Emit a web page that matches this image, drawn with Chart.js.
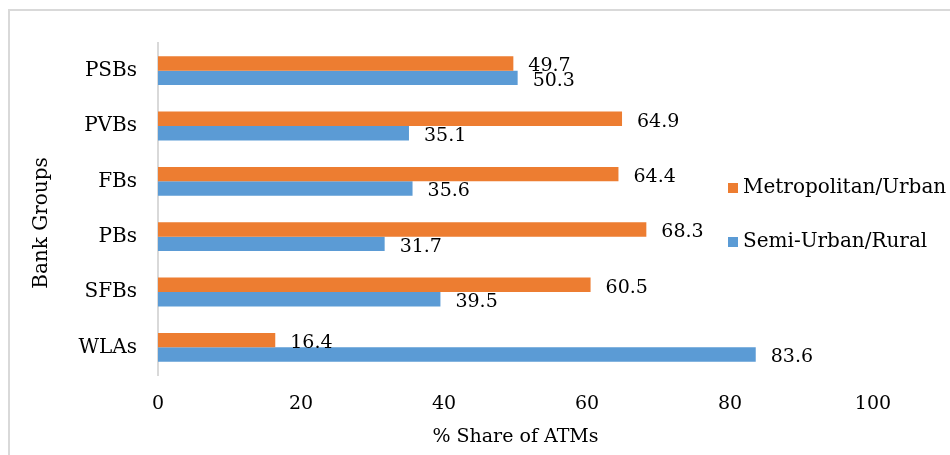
<!DOCTYPE html>
<html>
<head>
<meta charset="utf-8">
<script src="https://cdn.jsdelivr.net/npm/chart.js@4"></script>
<style>
  body { margin: 0; background: #fff; overflow: hidden; }
  #frame { position: absolute; left: 8px; top: 9px; width: 1000px; height: 500px;
           border-left: 2px solid #d9d9d9; border-top: 2px solid #d9d9d9; }
  #wrap { position: absolute; left: 0; top: 0; width: 950px; height: 455px; }
</style>
</head>
<body>
<div id="frame"></div>
<div id="wrap"><canvas id="atmCanvas" width="950" height="455"></canvas></div>
<script>
// ATM share by bank group
const bankGroups = ["PSBs", "PVBs", "FBs", "PBs", "SFBs", "WLAs"];
const metroUrban = [49.7, 64.9, 64.4, 68.3, 60.5, 16.4];
const semiUrbanRural = [50.3, 35.1, 35.6, 31.7, 39.5, 83.6];
const shareTicks = [0, 20, 40, 60, 80, 100];

const FONT = "'DejaVu Serif', serif";
const TEXT = "#000";

// value labels to the right of each bar
const barLabels = {
    id: "barLabels",
    afterDatasetsDraw(chart) {
        const ctx = chart.ctx;
        ctx.save();
        ctx.font = `19px ${FONT}`;
        ctx.fillStyle = TEXT;
        ctx.textAlign = "left";
        ctx.textBaseline = "middle";
        chart.data.datasets.forEach((ds, i) => {
            chart.getDatasetMeta(i).data.forEach((bar, j) => {
                ctx.fillText(ds.data[j].toFixed(1), bar.x + 15, bar.y + 3);
            });
        });
        ctx.restore();
    },
};

// legend drawn inside the plot, to the right
const sideLegend = {
    id: "sideLegend",
    afterDraw(chart) {
        const ctx = chart.ctx;
        ctx.save();
        ctx.font = `20px ${FONT}`;
        ctx.textBaseline = "alphabetic";
        chart.data.datasets.forEach((ds, i) => {
            const y = 193 + i * 54;
            ctx.fillStyle = ds.backgroundColor;
            ctx.fillRect(728, y - 10, 10, 10);
            ctx.fillStyle = TEXT;
            ctx.fillText(ds.label, 743, y);
        });
        ctx.restore();
    },
};

// y axis title, sits a bit below the middle of the plot
const groupTitle = {
    id: "groupTitle",
    afterDraw(chart) {
        const ctx = chart.ctx;
        ctx.save();
        ctx.translate(42, 223);
        ctx.rotate(-Math.PI / 2);
        ctx.font = `20px ${FONT}`;
        ctx.fillStyle = TEXT;
        ctx.textAlign = "center";
        ctx.textBaseline = "middle";
        ctx.fillText("Bank Groups", 0, 0);
        ctx.restore();
    },
};

const ctx = document.getElementById("atmCanvas").getContext("2d");
const atmChart = new Chart(ctx, {
    type: "bar",
    data: {
        labels: bankGroups,
        datasets: [
            {
                label: "Metropolitan/Urban",
                data: metroUrban,
                backgroundColor: "#ED7D31",
            },
            {
                label: "Semi-Urban/Rural",
                data: semiUrbanRural,
                backgroundColor: "#5B9BD5",
            },
        ],
    },
    options: {
        indexAxis: "y",
        responsive: false,
        animation: false,
        devicePixelRatio: 1,
        categoryPercentage: 0.52,
        barPercentage: 1.0,
        layout: { padding: { left: 0, right: 77, top: 43, bottom: 0 } },
        plugins: {
            legend: { display: false },
            tooltip: { enabled: false },
        },
        scales: {
            x: {
                min: 0,
                max: 100,
                afterBuildTicks: (axis) => {
                    axis.ticks = shareTicks.map((v) => ({ value: v }));
                },
                afterFit: (axis) => { axis.height = 80; },
                grid: { display: false, drawTicks: false },
                border: { display: false },
                ticks: { color: TEXT, font: { family: FONT, size: 19 }, padding: 18 },
                title: {
                    display: true,
                    text: "% Share of ATMs",
                    color: TEXT,
                    font: { family: FONT, size: 19 },
                    padding: { top: 0, bottom: 7 },
                },
            },
            y: {
                afterFit: (axis) => { axis.width = 158; },
                grid: { display: false, drawTicks: false },
                border: { display: true, color: "#d9d9d9", width: 2 },
                ticks: { color: TEXT, font: { family: FONT, size: 20 }, padding: 21 },
            },
        },
    },
    plugins: [barLabels, sideLegend, groupTitle],
});
</script>
</body>
</html>
